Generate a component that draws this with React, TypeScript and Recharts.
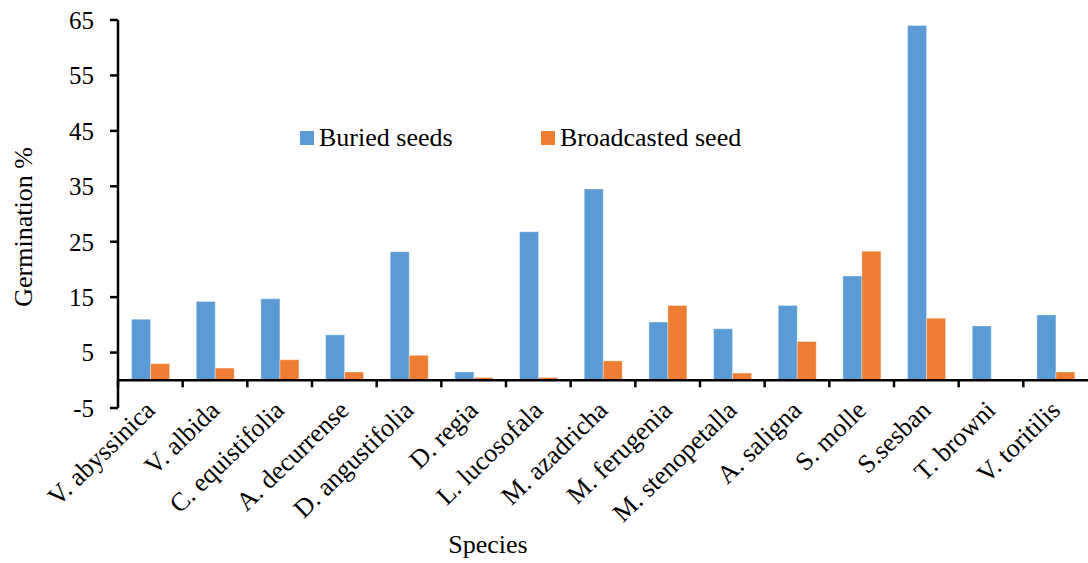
import React from 'react';
import { BarChart, Bar, XAxis, YAxis, ReferenceLine, Legend, Label } from 'recharts';

// Species tested and their germination percentages
const species = [
  'V. abyssinica',
  'V. albida',
  'C. equistifolia',
  'A. decurrense',
  'D. angustifolia',
  'D. regia',
  'L. lucosofala',
  'M. azadricha',
  'M. ferugenia',
  'M. stenopetalla',
  'A. saligna',
  'S. molle',
  'S.sesban',
  'T. browni',
  'V. toritilis',
];
const buriedSeeds = [11.0, 14.2, 14.7, 8.2, 23.2, 1.5, 26.8, 34.5, 10.5, 9.3, 13.5, 18.8, 64.0, 9.8, 11.8];
const broadcastedSeed = [3.0, 2.2, 3.7, 1.5, 4.5, 0.5, 0.5, 3.5, 13.5, 1.3, 7.0, 23.3, 11.2, 0, 1.5];
const yTicks = [-5, 5, 15, 25, 35, 45, 55, 65];

const seriesNames = ['Buried seeds', 'Broadcasted seed'];
const BLUE = '#5B9BD5';
const ORANGE = '#ED7D31';

const data = species.map((s, i) => ({
  species: s,
  buried: buriedSeeds[i],
  broadcasted: broadcastedSeed[i],
}));

// layout
const W = 1088;
const H = 563;
const PLOT_LEFT = 118;
const PLOT_TOP = 20;
const X_AXIS_H = 155;
const PLOT_H = H - PLOT_TOP - X_AXIS_H;
const PLOT_W = W - PLOT_LEFT;
const Y_MIN = -5;
const Y_MAX = 65;
const ZERO_Y = PLOT_TOP + (PLOT_H * (Y_MAX - 0)) / (Y_MAX - Y_MIN);
const FONT = "'Times New Roman', 'Liberation Serif', serif";

const SpeciesTick = (props: any) => {
  const { x, y, payload } = props;
  const band = PLOT_W / species.length;
  const tx = x + 6;
  const ty = y + 4;
  return (
    <g>
      <line
        x1={x - band / 2}
        x2={x - band / 2}
        y1={ZERO_Y}
        y2={ZERO_Y + 7}
        stroke="#000"
        strokeWidth={2.5}
      />
      <text
        x={tx}
        y={ty}
        transform={`rotate(-44 ${tx} ${ty})`}
        textAnchor="end"
        fontFamily={FONT}
        fontSize={26}
        fill="#000"
      >
        {payload.value}
      </text>
    </g>
  );
};

const LegendBox = () => (
  <div style={{ position: 'relative', height: 30, fontFamily: FONT, fontSize: 26, color: '#000' }}>
    {seriesNames.map((name, i) => (
      <div
        key={name}
        style={{
          position: 'absolute',
          left: i === 0 ? 0 : 241,
          top: 0,
          display: 'flex',
          alignItems: 'center',
          height: 30,
          lineHeight: '30px',
          whiteSpace: 'nowrap',
        }}
      >
        <span
          style={{
            display: 'inline-block',
            width: 14,
            height: 14,
            background: i === 0 ? BLUE : ORANGE,
            marginRight: 5,
          }}
        />
        <span>{name}</span>
      </div>
    ))}
  </div>
);

export default function App() {
  return (
    <div style={{ position: 'absolute', left: 0, top: 0, width: W, height: H, background: '#fff' }}>
      <BarChart
        width={W}
        height={H}
        data={data}
        margin={{ top: PLOT_TOP, right: 0, left: 0, bottom: 0 }}
        barCategoryGap="21%"
        barGap={0}
      >
        <XAxis
          dataKey="species"
          height={X_AXIS_H}
          interval={0}
          axisLine={false}
          tickLine={false}
          tickSize={0}
          tickMargin={0}
          tick={<SpeciesTick />}
        >
          <Label
            content={() => (
              <text x={488} y={553} textAnchor="middle" fontFamily={FONT} fontSize={26} fill="#000">
                Species
              </text>
            )}
          />
        </XAxis>
        <YAxis
          width={PLOT_LEFT}
          domain={[Y_MIN, Y_MAX]}
          ticks={yTicks}
          interval={0}
          allowDataOverflow
          axisLine={{ stroke: '#000', strokeWidth: 2.5 }}
          tickLine={{ stroke: '#000', strokeWidth: 2.5 }}
          tickSize={8}
          tickMargin={16}
          tick={{ fontFamily: FONT, fontSize: 25, fill: '#000' }}
        >
          <Label
            content={() => (
              <text
                x={32}
                y={227}
                transform="rotate(-90 32 227)"
                textAnchor="middle"
                fontFamily={FONT}
                fontSize={26}
                fill="#000"
              >
                Germination %
              </text>
            )}
          />
        </YAxis>
        <Legend
          layout="horizontal"
          verticalAlign="middle"
          align="center"
          content={() => <LegendBox />}
          wrapperStyle={{ position: 'absolute', left: 300, top: 123, width: 480, height: 30 }}
        />
        <Bar
          dataKey="buried"
          name={seriesNames[0]}
          fill={BLUE}
          stroke="#ffffff"
          strokeOpacity={0.35}
          strokeWidth={1}
          isAnimationActive={false}
        />
        <Bar
          dataKey="broadcasted"
          name={seriesNames[1]}
          fill={ORANGE}
          stroke="#ffffff"
          strokeOpacity={0.35}
          strokeWidth={1}
          isAnimationActive={false}
        />
        <ReferenceLine y={0} stroke="#000" strokeWidth={2.5} />
      </BarChart>
    </div>
  );
}
